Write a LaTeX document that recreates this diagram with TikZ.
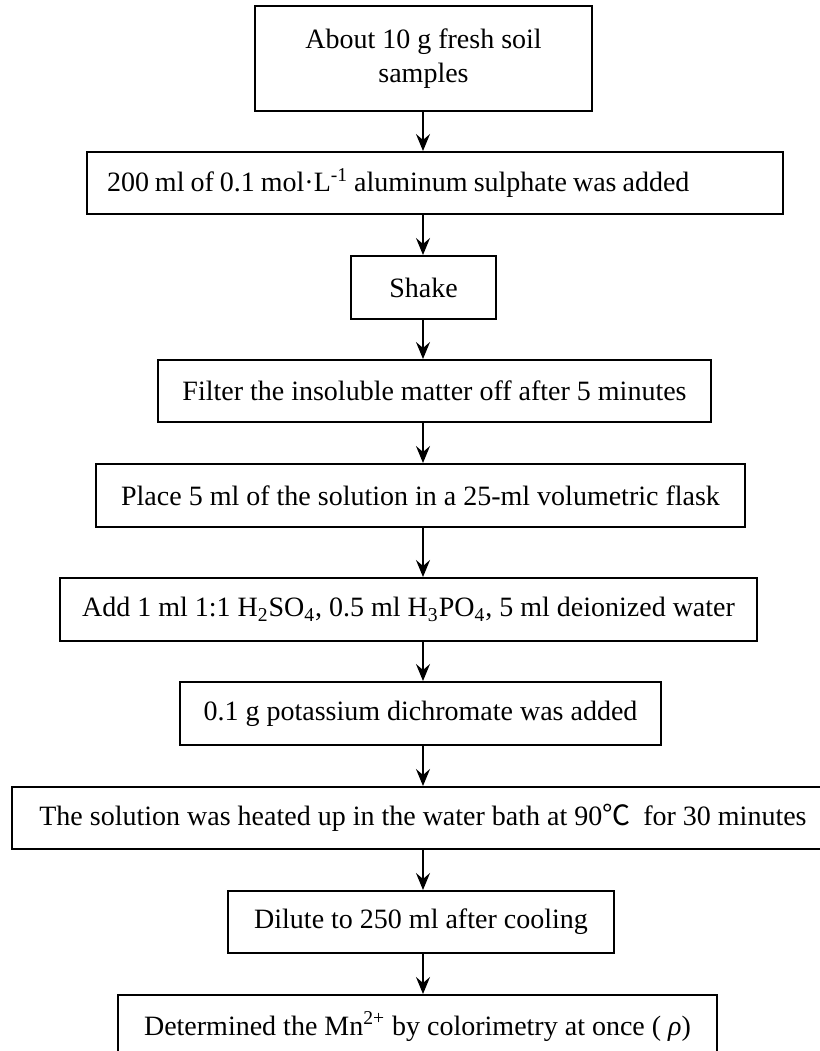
\documentclass[tikz,border=0pt]{standalone}
\usepackage{fontspec}
\setmainfont{Liberation Serif}
\newfontfamily\cjk{Noto Sans CJK SC}
\usetikzlibrary{arrows.meta}

\begin{document}
\begin{tikzpicture}[
    x=0.5pt, y=-0.5pt,
    >={Stealth[length=8.5pt, width=7pt, inset=3pt]},
    stepbox/.style={
        draw=black, rectangle, line width=1pt, align=center,
        inner sep=0pt, font=\fontsize{14}{17}\selectfont
    },
    flow/.style={->, line width=0.7pt}
]

\useasboundingbox (0,0) rectangle (820,1051);

% -------------------------
% Process Steps
% -------------------------

% 1. Soil sample (Top)
\node[stepbox, minimum width=168.5pt, minimum height=52.5pt] (soil) at (423.5, 58.5)
    {About 10 g fresh soil\\samples};

% 2. Aluminum sulphate
\node[stepbox, minimum width=348pt, minimum height=31pt,
      text width=328pt, inner xsep=10pt, align=left] (alum) at (435, 183)
    {\spaceskip=3pt plus 1pt 200 ml of 0.1 mol·L\textsuperscript{-1} aluminum sulphate was added};

% 3. Shake
\node[stepbox, minimum width=72.5pt, minimum height=31.5pt] (shake) at (423.5, 287.5)
    {Shake};

% 4. Filter
\node[stepbox, minimum width=276.5pt, minimum height=31pt] (filter) at (434.5, 391)
    {Filter the insoluble matter off after 5 minutes};

% 5. Volumetric flask
\node[stepbox, minimum width=324.5pt, minimum height=31.5pt] (flask) at (420.5, 495.5)
    {Place 5 ml of the solution in a 25-ml volumetric flask};

% 6. Acids and water
\node[stepbox, minimum width=348.5pt, minimum height=31.5pt] (acid) at (408.5, 609.5)
    {Add 1 ml 1:1 H\textsubscript{2}SO\textsubscript{4}, 0.5 ml H\textsubscript{3}PO\textsubscript{4}, 5 ml deionized water};

% 7. Potassium dichromate
\node[stepbox, minimum width=240.5pt, minimum height=31.5pt] (dichro) at (420.5, 713.5)
    {0.1 g potassium dichromate was added};

% 8. Water bath (runs past the right border)
\node[stepbox, minimum width=411pt, minimum height=31pt] (bath) at (423, 818)
    {The solution was heated up in the water bath at 90{\cjk ℃}\hspace{3pt} for 30 minutes};

% 9. Dilute
\node[stepbox, minimum width=193pt, minimum height=31pt] (dilute) at (421, 922)
    {Dilute to 250 ml after cooling};

% 10. Colorimetry (Bottom)
\node[stepbox, minimum width=299.5pt, minimum height=31.5pt] (colour) at (417.5, 1026.5)
    {Determined the Mn\textsuperscript{2+} by colorimetry at once ( \textit{ρ})};

% -------------------------
% Arrows
% -------------------------
\coordinate (axis) at (423, 0);

\foreach \a/\b in {soil/alum, alum/shake, shake/filter, filter/flask, flask/acid,
                   acid/dichro, dichro/bath, bath/dilute, dilute/colour}
    \draw[flow] (\a.south -| axis) -- (\b.north -| axis);

\end{tikzpicture}
\end{document}
